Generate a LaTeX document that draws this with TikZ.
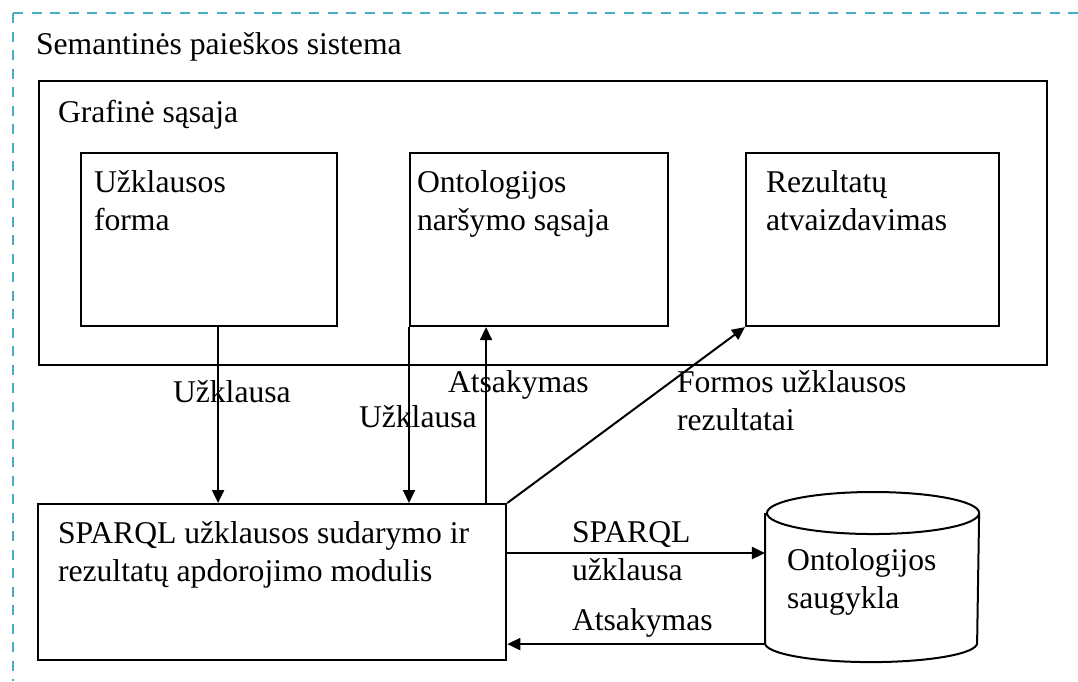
\documentclass[tikz,border=0pt]{standalone}
\usepackage{fontspec}
\setmainfont{Liberation Serif}
\usetikzlibrary{arrows.meta}
\definecolor{riba}{RGB}{75,172,198}

\begin{document}
\begin{tikzpicture}[x=0.01cm, y=-0.01cm, line width=0.02cm,
		>={Triangle[length=0.13cm,width=0.12cm]},
		dezute/.style={draw, rectangle, inner sep=0pt, anchor=north west},
		tekstas/.style={font=\fontsize{9pt}{10.7pt}\selectfont, inner sep=0pt, anchor=base west, align=left}]
			\useasboundingbox (0,0) rectangle (1078,681);
			% sistemos riba
			\draw[riba, line width=0.027cm, dash pattern=on 0.1cm off 0.085cm] (13,13) -- (1078,13) (13,13) -- (13,681);
			\node[tekstas] (sistema) at (35,54) {Semantinės paieškos sistema};
			% grafine sasaja
			\node[dezute, minimum width=10.07cm, minimum height=2.84cm] (grafine) at (38,80) {};
			\node[tekstas] (t-grafine) at (57,122) {Grafinė sąsaja};
			\node[dezute, minimum width=2.56cm, minimum height=1.73cm] (forma) at (80,152) {};
			\node[dezute, minimum width=2.58cm, minimum height=1.73cm] (narsymas) at (409,152) {};
			\node[dezute, minimum width=2.53cm, minimum height=1.73cm] (rezultatai) at (745,152) {};
			\node[tekstas] (t-forma) at (93,230) {Užklausos\\forma};
			\node[tekstas] (t-narsymas) at (416,230) {Ontologijos\\naršymo sąsaja};
			\node[tekstas] (t-rezultatai) at (765,230) {Rezultatų\\atvaizdavimas};
			% modulis ir saugykla
			\node[dezute, minimum width=4.68cm, minimum height=1.56cm] (modulis) at (37,503) {};
			\node[tekstas] (t-modulis) at (57,581) {SPARQL užklausos sudarymo ir\\rezultatų apdorojimo modulis};
			\node[inner sep=0pt, minimum width=2.12cm, minimum height=1.68cm, anchor=north west] (saugykla) at (765,492) {};
			\draw ([yshift=-0.21cm]saugykla.north west) -- ([yshift=0.19cm]saugykla.south west)
				arc[start angle=180, end angle=360, x radius=1.06cm, y radius=0.19cm]
				-- ([yshift=-0.21cm]saugykla.north east)
				arc[start angle=0, end angle=360, x radius=1.06cm, y radius=0.21cm];
			\node[tekstas] (t-saugykla) at (786,608) {Ontologijos\\saugykla};
			% rodykles
			\draw[->] ([xshift=0.09cm]forma.south) -- ([xshift=0.09cm]forma.south |- modulis.north);
			\draw[->] (narsymas.south west) -- (narsymas.south west |- modulis.north);
			\draw[<-] ([xshift=0.77cm]narsymas.south west) -- ([xshift=0.77cm]narsymas.south west |- modulis.north);
			\draw[->] (modulis.north east) -- (rezultatai.south west);
			\draw[->] ([yshift=0.29cm]modulis.east) -- ([yshift=0.29cm]modulis.east -| saugykla.west);
			\draw[<-] ([yshift=-0.62cm]modulis.east) -- ([yshift=-0.62cm]modulis.east -| saugykla.west);
			% uzrasai
			\node[tekstas] (u-forma) at (172,402) {Užklausa};
			\node[tekstas] (u-narsymas) at (358,427) {Užklausa};
			\node[tekstas] (a-narsymas) at (447,392) {Atsakymas};
			\node[tekstas] (u-rezultatai) at (676,430) {Formos užklausos\\rezultatai};
			\node[tekstas] (u-saugykla) at (571,580) {SPARQL\\užklausa};
			\node[tekstas] (a-saugykla) at (571,630) {Atsakymas};
		\end{tikzpicture}
\end{document}
